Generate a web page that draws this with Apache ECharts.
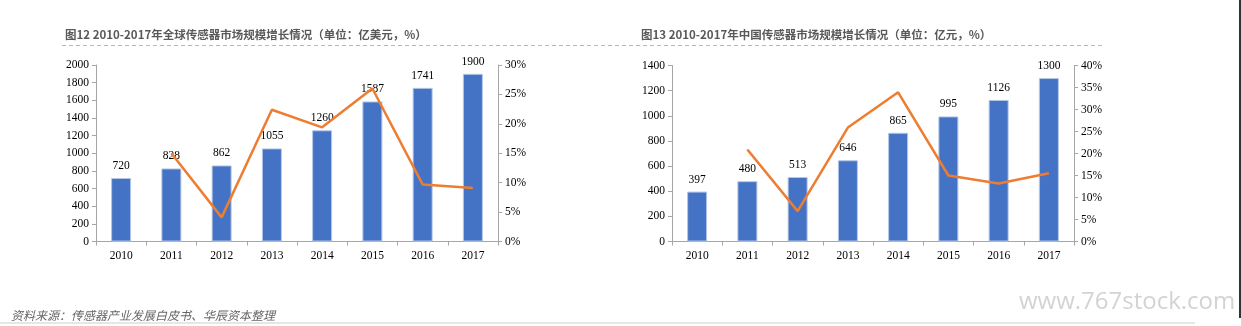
<!DOCTYPE html>
<html>
<head>
<meta charset="utf-8">
<script src="https://cdn.jsdelivr.net/npm/echarts@6/dist/echarts.min.js"></script>
<style>
  html, body { margin: 0; padding: 0; background: #fff; }
  #main { width: 1241px; height: 326px; }
</style>
</head>
<body>
<div id="main"></div>
<script>
// Years shared by both panels
const years = ['2010', '2011', '2012', '2013', '2014', '2015', '2016', '2017'];

// Global sensor market size (100 million USD) and growth (%)
const globalSize = [720, 828, 862, 1055, 1260, 1587, 1741, 1900];
const globalGrowth = [null, 15.0, 4.1, 22.4, 19.4, 26.0, 9.7, 9.1];

// China sensor market size (100 million CNY) and growth (%)
const chinaSize = [397, 480, 513, 646, 865, 995, 1126, 1300];
const chinaGrowth = [null, 20.9, 6.9, 25.9, 33.9, 15.0, 13.2, 15.5];

const titleGlobal = '图12 2010-2017年全球传感器市场规模增长情况（单位：亿美元，%）';
const titleChina = '图13 2010-2017年中国传感器市场规模增长情况（单位：亿元，%）';
const sourceNote = '资料来源：传感器产业发展白皮书、华辰资本整理';
const watermark = 'www.767stock.com';

const serif = '"Liberation Serif", "DejaVu Serif", serif';
const cjk = '"Noto Sans CJK SC", sans-serif';
const axisGrey = '#a6a6a6';
const barBlue = '#4472C4';
const lineOrange = '#ED7D31';

function valueAxis(gridIndex, max, interval, pct, pos) {
  return {
    type: 'value', gridIndex, min: 0, max, interval, position: pos,
    axisLine: { show: true, lineStyle: { color: axisGrey, width: 1 } },
    axisTick: { show: true, length: 4, lineStyle: { color: axisGrey } },
    splitLine: { show: false },
    axisLabel: {
      color: '#000', fontFamily: serif, fontSize: 11.5, margin: 7,
      formatter: pct ? (v) => v + '%' : (v) => String(v)
    }
  };
}

function catAxis(gridIndex) {
  return {
    type: 'category', gridIndex, data: years, boundaryGap: true,
    axisLine: { show: true, lineStyle: { color: axisGrey, width: 1 } },
    axisTick: { show: true, length: 4, interval: 0, lineStyle: { color: axisGrey } },
    axisLabel: { color: '#000', fontFamily: serif, fontSize: 11.5, margin: 8 }
  };
}

function barSeries(xi, yi, data) {
  return {
    type: 'bar', xAxisIndex: xi, yAxisIndex: yi, data, barWidth: 20,
    itemStyle: { color: barBlue, borderColor: '#b4c7e7', borderWidth: 1 },
    label: {
      show: true, position: 'top', distance: 6, color: '#000',
      fontFamily: serif, fontSize: 11.5
    },
    z: 2
  };
}

function lineSeries(xi, yi, data) {
  return {
    type: 'line', xAxisIndex: xi, yAxisIndex: yi, data,
    showSymbol: false, symbol: 'none', connectNulls: false,
    lineStyle: { color: lineOrange, width: 2.5 }, z: 3
  };
}

const chart = echarts.init(document.getElementById('main'), null, { renderer: 'canvas' });

chart.setOption({
  backgroundColor: '#fff',
  animation: false,
  title: [
    { text: titleGlobal, left: 60, top: 24,
      textStyle: { color: '#595959', fontSize: 11.5, fontWeight: 'bold', fontFamily: cjk } },
    { text: titleChina, left: 636, top: 24,
      textStyle: { color: '#595959', fontSize: 11.5, fontWeight: 'bold', fontFamily: cjk } },
    { text: sourceNote, left: 6, top: 304,
      textStyle: { color: '#666', fontSize: 12, fontWeight: 'normal', fontStyle: 'italic', fontFamily: cjk } },
    { text: watermark, left: 1014, top: 285,
      textStyle: { color: '#d3d3d3', fontSize: 24, fontWeight: 'normal', fontFamily: '"Open Sans", "DejaVu Sans", sans-serif' } }
  ],
  graphic: [
    { type: 'line', shape: { x1: 62, y1: 45.5, x2: 1105, y2: 45.5 },
      style: { stroke: '#b8b8b8', lineWidth: 1, lineDash: [4, 3] }, silent: true },
    { type: 'line', shape: { x1: 0, y1: 323, x2: 1195, y2: 323 },
      style: { stroke: '#e6e6e6', lineWidth: 2 }, silent: true },
    { type: 'line', shape: { x1: 1240, y1: 0, x2: 1240, y2: 318 },
      style: { stroke: '#333', lineWidth: 2 }, silent: true }
  ],
  grid: [
    { left: 96, top: 65, width: 402, height: 176.5, containLabel: false },
    { left: 672, top: 65.5, width: 402, height: 176, containLabel: false }
  ],
  xAxis: [catAxis(0), catAxis(1)],
  yAxis: [
    valueAxis(0, 2000, 200, false, 'left'),
    valueAxis(0, 30, 5, true, 'right'),
    valueAxis(1, 1400, 200, false, 'left'),
    valueAxis(1, 40, 5, true, 'right')
  ],
  series: [
    barSeries(0, 0, globalSize),
    lineSeries(0, 1, globalGrowth),
    barSeries(1, 2, chinaSize),
    lineSeries(1, 3, chinaGrowth)
  ]
});
</script>
</body>
</html>
